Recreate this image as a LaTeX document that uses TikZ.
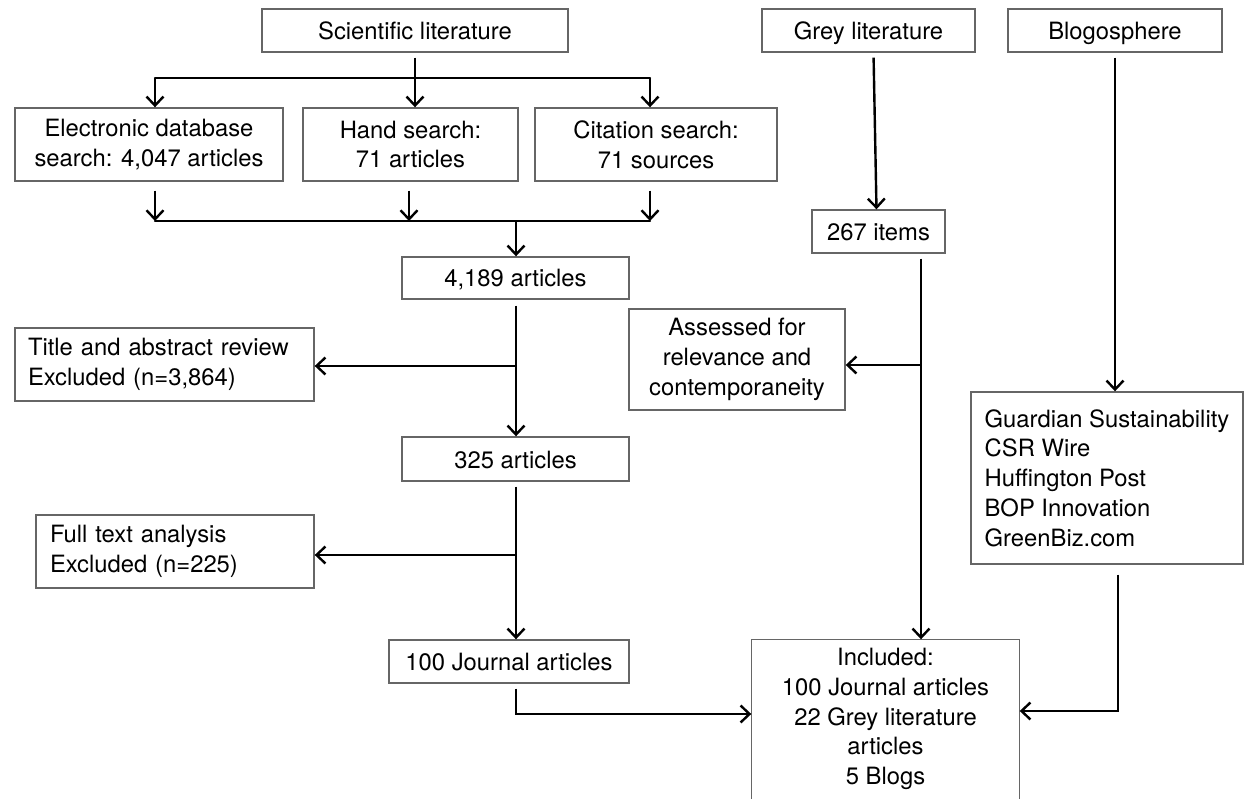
\documentclass[tikz,border=0pt]{standalone}
\usepackage{fontspec}
\setmainfont{TeX Gyre Heros}
\usetikzlibrary{arrows.meta}
\tikzset{
  box/.style={draw=black!60, line width=1.4pt, inner sep=0pt, align=center,
    font=\fontsize{23.8}{29.8}\selectfont},
  one/.style={text height=18pt, text depth=0pt},
  ln/.style={line width=2.4pt, draw=black},
  arr/.style={ln, -{Straight Barb[length=9pt,width=17pt]}},
}
\begin{document}
\begin{tikzpicture}[x=1pt,y=-1pt]
\useasboundingbox (0,0) rectangle (1245,799);
\clip (0,0) rectangle (1245,799);
% top sources
\node[box, one, minimum width=306, minimum height=43] (sci) at (415,30.5) {Scientific literature};
\node[box, one, minimum width=213, minimum height=43] (grey) at (868.5,30.5) {Grey literature};
\node[box, one, minimum width=214, minimum height=43] (blog) at (1115,30.5) {Blogosphere};
% search boxes
\node[box, minimum width=268, minimum height=73] (elec) at (149,144.5) {Electronic database\\search: 4,047 articles};
\node[box, minimum width=215, minimum height=73] (hand) at (410.5,144.5) {Hand search:\\71 articles};
\node[box, minimum width=242, minimum height=73] (cit) at (656,144.5) {Citation search:\\71 sources};
% main flow
\node[box, one, minimum width=227, minimum height=42] (n4189) at (515.5,278) {4,189 articles};
\node[box, inner xsep=13pt, text width=273, minimum height=73, align=left] (title) at (164.5,364.5) {Title and abstract review\\Excluded (n=3,864)};
\node[box, one, minimum width=227, minimum height=44] (n325) at (515.5,459) {325 articles};
\node[box, inner xsep=14pt, text width=250, minimum height=73, align=left] (full) at (175,551.5) {Full text analysis\\Excluded (n=225)};
\node[box, one, minimum width=240, minimum height=43] (j100) at (509,661.5) {100 Journal articles};
% grey literature
\node[box, one, minimum width=133, minimum height=43] (items) at (878.5,231.5) {267 items};
\node[box, minimum width=216, minimum height=101] (assess) at (737,359.5) {Assessed for\\relevance and\\contemporaneity};
% blogosphere
\node[box, minimum width=272, minimum height=172, align=left] (guard) at (1107,478) {Guardian Sustainability\\CSR Wire\\Huffington Post\\BOP Innovation\\GreenBiz.com};
% included (box runs past the bottom edge)
\node[box, draw=none, minimum width=267, minimum height=158] (inc) at (885.5,719) {Included:\\100 Journal articles\\22 Grey literature\\articles\\5 Blogs};
\draw[draw=black!60, line width=1.4pt] ([yshift=-20pt]inc.south west) -- (inc.north west) -- (inc.north east) -- ([yshift=-20pt]inc.south east);
% coordinates of junctions
\coordinate (sb) at (415,78);
\coordinate (sbl) at (155,78);
\coordinate (sbr) at (650,78);
\coordinate (mb) at (516,221);
\coordinate (mbl) at (155,221);
\coordinate (mbh) at (409,221);
\coordinate (mbr) at (650,221);
\coordinate (e1) at (516,366);
\coordinate (e2) at (516,555);
\coordinate (g1) at (921,365);
% scientific literature split
\draw[ln, shorten <=5pt] (sci) -- (sb);
\draw[ln, line cap=round] (sbl) -- (sbr);
\draw[arr] (sbl) -- (elec.north -| sbl);
\draw[arr] (sb) -- (hand.north -| sb);
\draw[arr] (sbr) -- (cit.north -| sbr);
% merge
\draw[arr, shorten <=9pt] (elec.south -| mbl) -- (mbl);
\draw[arr, shorten <=9pt] (hand.south -| mbh) -- (mbh);
\draw[arr, shorten <=9pt] (cit.south -| mbr) -- (mbr);
\draw[ln, line cap=round] (mbl) -- (mbr);
\draw[arr] (mb) -- (n4189.north -| mb);
% main spine
\draw[arr, shorten <=6pt] (n4189.south -| mb) -- (n325.north -| mb);
\draw[arr] (e1) -- (title.east |- e1);
\draw[arr, shorten <=5pt] (n325.south -| mb) -- (j100.north -| mb);
\draw[arr] (e2) -- (full.east |- e2);
\draw[arr, shorten <=5pt] (j100.south -| mb) |- ([yshift=5pt]inc.west);
% grey literature
\draw[arr, shorten <=5pt] ([xshift=5pt]grey.south) -- ([xshift=-2pt]items.north);
\draw[arr, shorten <=5pt] (items.south -| g1) -- (inc.north -| g1);
\draw[arr] (g1) -- (assess.east |- g1);
% blogosphere
\draw[arr, shorten <=5pt] (blog.south) -- (guard.north -| blog.south);
\draw[arr, shorten <=10pt] ([xshift=11pt]guard.south) |- ([yshift=8pt]inc.east);
\end{tikzpicture}
\end{document}
